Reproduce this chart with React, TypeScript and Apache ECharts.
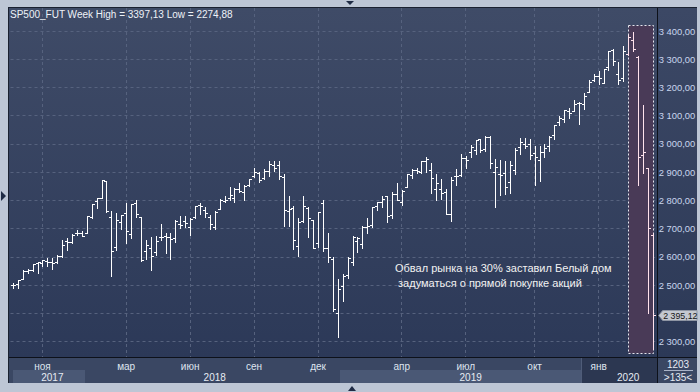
import React, { useEffect, useRef } from 'react';
import * as echarts from 'echarts';

const weeks = [
  '18.09.17','25.09.17','02.10.17','09.10.17','16.10.17','23.10.17','30.10.17','06.11.17','13.11.17','20.11.17','27.11.17','04.12.17','11.12.17','18.12.17','25.12.17',
  '01.01.18','08.01.18','15.01.18','22.01.18','29.01.18','05.02.18','12.02.18','19.02.18','26.02.18','05.03.18','12.03.18','19.03.18','26.03.18','02.04.18','09.04.18','16.04.18','23.04.18','30.04.18','07.05.18','14.05.18','21.05.18','28.05.18','04.06.18','11.06.18','18.06.18','25.06.18','02.07.18','09.07.18','16.07.18','23.07.18','30.07.18','06.08.18','13.08.18','20.08.18','27.08.18','03.09.18','10.09.18','17.09.18','24.09.18','01.10.18','08.10.18','15.10.18','22.10.18','29.10.18','05.11.18','12.11.18','19.11.18','26.11.18','03.12.18','10.12.18','17.12.18','24.12.18','31.12.18',
  '07.01.19','14.01.19','21.01.19','28.01.19','04.02.19','11.02.19','18.02.19','25.02.19','04.03.19','11.03.19','18.03.19','25.03.19','01.04.19','08.04.19','15.04.19','22.04.19','29.04.19','06.05.19','13.05.19','20.05.19','27.05.19','03.06.19','10.06.19','17.06.19','24.06.19','01.07.19','08.07.19','15.07.19','22.07.19','29.07.19','05.08.19','12.08.19','19.08.19','26.08.19','02.09.19','09.09.19','16.09.19','23.09.19','30.09.19','07.10.19','14.10.19','21.10.19','28.10.19','04.11.19','11.11.19','18.11.19','25.11.19','02.12.19','09.12.19','16.12.19','23.12.19','30.12.19',
  '06.01.20','13.01.20','20.01.20','27.01.20','03.02.20','10.02.20','17.02.20','24.02.20','02.03.20','09.03.20','16.03.20'
];

const opens = [
  2502,2503,2521,2549,2554,2578,2577,2587,2580,2580,2603,2657,2652,2685,2684,
  2683,2742,2798,2810,2867,2741,2636,2723,2757,2681,2791,2741,2620,2633,2617,2670,2675,2669,2665,2718,2726,2706,2742,2783,2766,2742,2704,2769,2797,2810,2809,2842,2828,2853,2885,2897,2880,2903,2926,2926,2882,2763,2773,2640,2726,2773,2731,2650,2790,2630,2591,2400,2498,
  2535,2582,2657,2644,2706,2712,2780,2796,2814,2747,2823,2796,2848,2889,2908,2899,2941,2909,2841,2841,2831,2751,2885,2889,2951,2971,2979,3017,2981,3024,2899,2893,2898,2866,2909,2988,3001,2999,2968,2944,2973,2992,3032,3078,3089,3118,3117,3144,3141,3183,3226,3240,
  3217,3271,3333,3248,3235,3318,3369,3309,2960,2915,2678
];
const highs = [
  2508,2519,2552,2557,2575,2582,2588,2597,2597,2605,2658,2665,2680,2695,2692,
  2743,2787,2810,2873,2870,2763,2755,2747,2789,2787,2801,2742,2660,2672,2675,2717,2683,2683,2732,2743,2743,2736,2779,2791,2775,2747,2764,2804,2816,2848,2845,2863,2855,2877,2916,2900,2912,2941,2940,2940,2894,2816,2779,2736,2815,2776,2732,2760,2800,2685,2601,2520,2538,
  2598,2675,2672,2709,2738,2776,2794,2816,2816,2830,2861,2836,2893,2910,2915,2940,2954,2931,2892,2876,2841,2884,2910,2964,2958,2996,3014,3017,3028,3027,2945,2943,2939,2940,2986,3021,3022,3016,2993,2993,3001,3027,3067,3098,3121,3127,3154,3150,3182,3226,3248,3259,
  3267,3330,3338,3290,3347,3385,3397.13,3311,3137,2916,2684
];
const lows = [
  2488,2490,2520,2542,2551,2544,2567,2566,2557,2577,2600,2624,2648,2676,2674,
  2683,2736,2774,2808,2759,2533,2623,2698,2648,2665,2742,2585,2594,2553,2605,2660,2612,2594,2652,2701,2704,2676,2737,2752,2742,2698,2698,2769,2794,2802,2795,2828,2802,2850,2884,2864,2874,2886,2903,2874,2710,2710,2628,2604,2722,2670,2631,2635,2621,2583,2409,2316,2444,
  2525,2570,2617,2631,2684,2705,2767,2775,2722,2739,2800,2785,2848,2879,2898,2898,2900,2825,2801,2805,2750,2728,2855,2887,2913,2952,2966,2972,2976,2914,2776,2820,2822,2825,2892,2964,2986,2945,2855,2869,2952,2975,3017,3066,3078,3091,3115,3070,3123,3183,3224,3212,
  3215,3263,3280,3214,3223,3315,3328,2855,2897,2401,2274.88
];
const closes = [
  2502,2519,2549,2553,2575,2581,2588,2582,2579,2602,2642,2652,2676,2683,2674,
  2743,2786,2810,2873,2762,2620,2732,2747,2691,2786,2752,2588,2641,2604,2656,2670,2670,2663,2728,2713,2721,2735,2779,2780,2755,2718,2760,2801,2802,2819,2840,2833,2850,2875,2902,2872,2905,2930,2914,2885,2767,2768,2658,2723,2781,2736,2633,2760,2633,2600,2417,2486,2532,
  2596,2671,2665,2707,2708,2776,2793,2804,2743,2822,2800,2834,2893,2907,2905,2940,2946,2881,2860,2826,2752,2873,2887,2950,2942,2990,3014,2977,3026,2932,2919,2889,2847,2926,2979,3007,2992,2962,2952,2970,2986,3023,3067,3093,3120,3110,3141,3146,3169,3221,3240,3235,
  3265,3330,3295,3226,3328,3380,3338,2955,2970,2702,2395.12
];

const monthTicks = [6, 23, 36, 49, 62, 79, 92, 106, 119];
const monthNames = ['ноя', 'мар', 'июн', 'сен', 'дек', 'апр', 'июл', 'окт', 'янв'];
const yearTicks = [8, 41, 93, 125];
const yearNames = ['2017', '2018', '2019', '2020'];
const dimFrom = 119;
const highlight = [125, 130, 3420, 2260];
const lastPrice = 2395.12;
const hiddenTick = 2400;
const titleText = 'SP500_FUT Week High = 3397,13 Low = 2274,88';
const noteLines = ['Обвал рынка на 30% заставил Белый дом', ' задуматься о прямой покупке акций'];
const cornerTop = '1203';
const cornerBottom = '>135<';

const FONT = "'Liberation Sans', Arial, sans-serif";

function fmt(v: number): string {
  const s = v.toFixed(2);
  const [i, d] = s.split('.');
  return i.replace(/\B(?=(\d{3})+(?!\d))/g, ' ') + ',' + d;
}

export default function App() {
  const ref = useRef<HTMLDivElement>(null);
  useEffect(() => {
    document.body.style.margin = '0';
    const chart = echarts.init(ref.current!, undefined, { renderer: 'svg' });
    const ohlc = weeks.map((_, i) => [i, opens[i], highs[i], lows[i], closes[i]]);
    const option: any = {
      animation: false,
      backgroundColor: 'transparent',
      title: {
        text: titleText, left: 10, top: 9, padding: 0,
        textStyle: { color: '#eef2f8', fontSize: 10, fontWeight: 'normal', fontFamily: FONT },
      },
      grid: { left: 10.5, right: 44.8, top: 8, bottom: 35 },
      xAxis: [
        {
          type: 'category', data: weeks, boundaryGap: true,
          axisLine: { show: false }, axisTick: { show: false },
          axisLabel: {
            interval: (i: number) => monthTicks.includes(i),
            formatter: (_v: string, i: number) => monthNames[monthTicks.indexOf(i)] || '',
            color: (_v: string, i: number) => (i >= dimFrom ? '#6e7c97' : '#dfe5ef'),
            fontSize: 10, fontFamily: FONT, margin: 4,
          },
          splitLine: {
            show: true, alignWithLabel: true,
            interval: (i: number) => monthTicks.includes(i),
            lineStyle: { color: '#56627e', type: [3, 3], width: 1 },
          },
        },
        {
          type: 'category', data: weeks, boundaryGap: true, position: 'bottom', offset: 11,
          axisLine: { show: false }, axisTick: { show: false }, splitLine: { show: false },
          axisLabel: {
            interval: (i: number) => yearTicks.includes(i),
            formatter: (_v: string, i: number) => yearNames[yearTicks.indexOf(i)] || '',
            color: (_v: string, i: number) => (i >= dimFrom ? '#6e7c97' : '#e6ebf3'),
            fontSize: 10, fontFamily: FONT, margin: 4,
          },
        },
      ],
      yAxis: {
        type: 'value', position: 'right', min: 2245.2, max: 3481.5,
        splitNumber: 12, minInterval: 100, maxInterval: 100,
        axisLine: { show: false }, axisTick: { show: false },
        axisLabel: {
          showMinLabel: false, showMaxLabel: false, margin: 3.5,
          color: '#c9d6ee', fontSize: 9.4, fontFamily: FONT,
          formatter: (v: number) => (v === hiddenTick ? '' : fmt(v)),
        },
        splitLine: {
          show: true, showMinLine: false, showMaxLine: false,
          lineStyle: { color: '#56627e', type: [3, 3], width: 1 },
        },
      },
      series: [
        {
          type: 'custom', z: 1,
          data: [highlight],
          encode: { x: [0, 1], y: [2, 3] },
          renderItem: (_p: any, api: any) => {
            const a = api.coord([api.value(0), api.value(2)]);
            const b = api.coord([api.value(1), api.value(3)]);
            const x = Math.round(a[0]) + 0.5, y = Math.round(a[1]) + 0.5;
            return {
              type: 'rect',
              shape: { x, y, width: Math.round(b[0]) - Math.round(a[0]), height: Math.round(b[1]) - Math.round(a[1]) },
              style: { fill: '#493a57', stroke: '#e6e6ee', lineWidth: 1, lineDash: [2, 2] },
            };
          },
        },
        {
          type: 'custom', z: 3,
          data: ohlc,
          encode: { x: 0, y: [1, 2, 3, 4] },
          renderItem: (_p: any, api: any) => {
            const i = api.value(0);
            const o = api.coord([i, api.value(1)]);
            const h = api.coord([i, api.value(2)]);
            const l = api.coord([i, api.value(3)]);
            const c = api.coord([i, api.value(4)]);
            const n = Math.round(o[0]);
            const x = n + 0.5;
            const color = i >= highlight[0] ? '#ffe2ec' : '#ffffff';
            const oy = Math.round(o[1]) + 0.5, cy = Math.round(c[1]) + 0.5;
            return {
              type: 'group',
              children: [
                { type: 'line', shape: { x1: x, y1: Math.round(h[1]), x2: x, y2: Math.round(l[1]) + 1 }, style: { stroke: color, lineWidth: 1 } },
                { type: 'line', shape: { x1: n - 2, y1: oy, x2: n, y2: oy }, style: { stroke: color, lineWidth: 1 } },
                { type: 'line', shape: { x1: n + 1, y1: cy, x2: n + 3, y2: cy }, style: { stroke: color, lineWidth: 1 } },
              ],
            };
          },
        },
        {
          type: 'custom', z: 5, clip: false,
          data: [[weeks.length - 1, lastPrice]],
          encode: { x: 0, y: 1 },
          renderItem: (params: any, api: any) => {
            const p = api.coord([api.value(0), api.value(1)]);
            const gx = params.coordSys.x + params.coordSys.width;
            const y = Math.round(p[1]) + 0.5;
            const x0 = gx + 3.5;
            return {
              type: 'group',
              children: [
                {
                  type: 'polygon',
                  shape: { points: [[x0, y], [x0 + 4, y - 5], [697, y - 5], [697, y + 5], [x0 + 4, y + 5]] },
                  style: { fill: '#c4c8d0', stroke: '#8e95a3', lineWidth: 1 },
                },
                {
                  type: 'text',
                  style: { text: fmt(api.value(1)), x: x0 + 4.5, y: y + 0.5, verticalAlign: 'middle', fill: '#151515', font: `8.8px ${FONT}` },
                },
              ],
            };
          },
        },
      ],
      graphic: [
        { type: 'line', z: 50, shape: { x1: 657.5, y1: 8, x2: 657.5, y2: 383 }, style: { stroke: '#0d111a', lineWidth: 1 } },
        { type: 'line', z: 50, shape: { x1: 8, y1: 357.5, x2: 697, y2: 357.5 }, style: { stroke: '#0d111a', lineWidth: 1 } },
        { type: 'line', z: 50, shape: { x1: 8, y1: 7.5, x2: 697, y2: 7.5 }, style: { stroke: '#1a2130', lineWidth: 1 } },
        { type: 'line', z: 50, shape: { x1: 8.5, y1: 7, x2: 8.5, y2: 383 }, style: { stroke: '#1a2130', lineWidth: 1 } },
        { type: 'text', z: 60, x: 395, y: 268, style: { text: noteLines[0], fill: '#f2f2f2', font: `11px ${FONT}`, verticalAlign: 'middle' } },
        { type: 'text', z: 60, x: 395, y: 283, style: { text: noteLines[1], fill: '#f2f2f2', font: `11px ${FONT}`, verticalAlign: 'middle' } },
        { type: 'text', z: 60, x: 678, y: 364.5, style: { text: cornerTop, fill: '#e6ebf3', font: `10px ${FONT}`, align: 'center', verticalAlign: 'middle' } },
        { type: 'line', z: 60, shape: { x1: 664, y1: 370.5, x2: 693, y2: 370.5 }, style: { stroke: '#aab4c8', lineWidth: 1 } },
        { type: 'text', z: 60, x: 678, y: 377, style: { text: cornerBottom, fill: '#e6ebf3', font: `10px ${FONT}`, align: 'center', verticalAlign: 'middle' } },
        { type: 'polygon', z: 60, shape: { points: [[346, 1], [354, 1], [350, 5]] }, style: { fill: '#1f2b45' } },
        { type: 'polygon', z: 60, shape: { points: [[1, 191], [1, 201], [6, 196]] }, style: { fill: '#1f2b45' } },
        { type: 'polygon', z: 60, shape: { points: [[348, 391], [356, 391], [352, 386]] }, style: { fill: '#1f2b45' } },
      ],
    };
    chart.setOption(option);
    return () => chart.dispose();
  }, []);

  const abs = (l: number, t: number, w: number, h: number, bg: string): React.CSSProperties => ({
    position: 'absolute', left: l, top: t, width: w, height: h, background: bg,
  });

  return (
    <div style={{ position: 'relative', width: 700, height: 392, background: '#bdc6d5', overflow: 'hidden' }}>
      <div style={abs(9, 8, 648, 349, 'linear-gradient(#3f4b67, #2c3958)')} />
      <div style={abs(658, 8, 39, 349, 'linear-gradient(#3c4865, #2c3957)')} />
      <div style={abs(9, 358, 648, 25, '#3a4763')} />
      <div style={abs(13, 370, 72, 13, '#4a5875')} />
      <div style={abs(340, 370, 242, 13, '#4a5875')} />
      <div style={abs(582, 358, 75, 25, '#2c3751')} />
      <div style={abs(581, 358, 1, 25, '#4f5c78')} />
      <div style={abs(658, 358, 39, 25, '#3a4763')} />
      <div ref={ref} style={{ position: 'absolute', left: 0, top: 0, width: 700, height: 392 }} />
    </div>
  );
}
